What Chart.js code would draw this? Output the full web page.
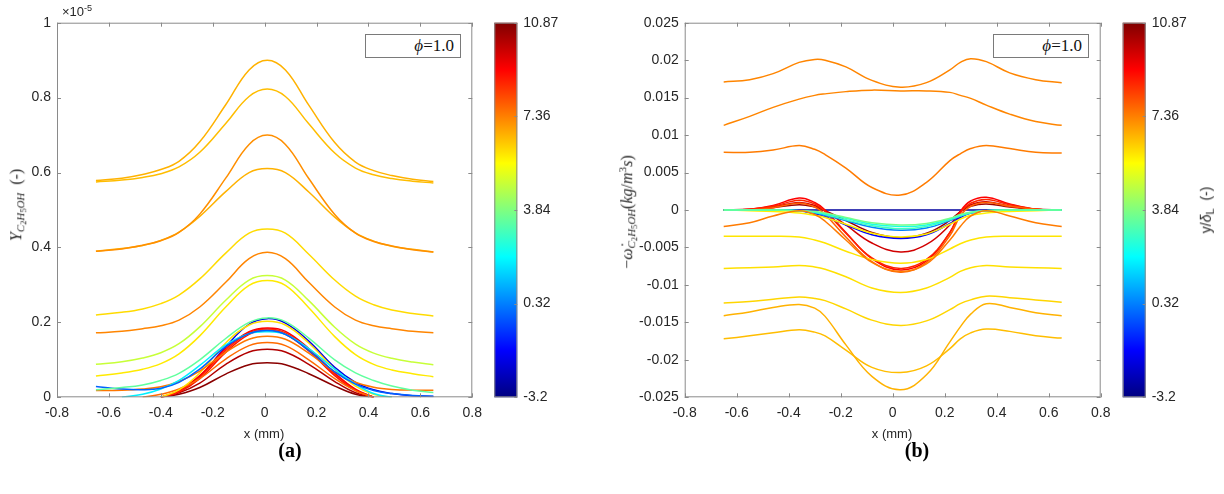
<!DOCTYPE html>
<html><head><meta charset="utf-8">
<script src="https://cdn.jsdelivr.net/npm/chart.js@4.4.1/dist/chart.umd.min.js"></script>
<style>
html,body{margin:0;padding:0;background:#fff;}
#wrap{position:relative;width:1224px;height:494px;overflow:hidden;font-family:"Liberation Sans",Arial,sans-serif;color:#262626;}
.cv{position:absolute;top:0;width:612px;height:494px;}
.t{position:absolute;white-space:nowrap;transform:translate(-50%,-50%);}
.rot{transform:translate(-50%,-50%) rotate(-90deg);}
.serif{font-family:"Liberation Serif","Times New Roman",serif;}
.legend{position:absolute;border:1px solid #7a7a7a;background:#fff;box-sizing:border-box;font-family:"Liberation Serif","Times New Roman",serif;font-size:17px;text-align:right;padding-right:6px;line-height:22px;color:#111;}
.sb{font-size:0.68em;vertical-align:-0.3em;}
.sb2{font-size:0.8em;vertical-align:-0.25em;}
.sp{font-size:0.7em;vertical-align:0.55em;}
</style></head>
<body><div id="wrap">
<div class="cv" style="left:0"><canvas id="c1" width="612" height="494"></canvas></div>
<div class="cv" style="left:612px"><canvas id="c2" width="612" height="494"></canvas></div>

<div class="t" style="left:77px;top:11px;font-size:13px;">×10<span class="sp">-5</span></div>
<div class="t rot serif" style="left:18px;top:205px;font-size:16px;"><i>Y</i><span class="sb"><i>C</i><span class="sb2">2</span><i>H</i><span class="sb2">5</span><i>OH</i></span>&nbsp;&nbsp;(-)</div>
<div class="t rot serif" style="left:628px;top:212px;font-size:16px;">−<i>ω̇</i><span class="sb"><i>C</i><span class="sb2">2</span><i>H</i><span class="sb2">5</span><i>OH</i></span>(<i>kg</i>/<i>m</i><span class="sp">3</span><i>s</i>)</div>
<div class="t" style="left:264px;top:433px;font-size:13px;">x (mm)</div>
<div class="t" style="left:892px;top:433px;font-size:13px;">x (mm)</div>
<div class="t rot" style="left:1207px;top:210px;font-size:14px;">y/<i>δ</i><span class="sb" style="font-size:0.8em">L</span>&nbsp;&nbsp;(-)</div>
<div class="t serif" style="left:290px;top:450px;font-size:20px;font-weight:bold;color:#000;">(a)</div>
<div class="t serif" style="left:917px;top:450px;font-size:20px;font-weight:bold;color:#000;">(b)</div>
<div class="legend" style="left:365px;top:34px;width:96px;height:24px;"><i>ϕ</i>=1.0</div>
<div class="legend" style="left:993px;top:34px;width:96px;height:24px;"><i>ϕ</i>=1.0</div>
</div>
<script>
// ---------- colour bar (y/delta_L) ----------
const cbMin = -3.2, cbMax = 10.87;
const cbTicks = [-3.2, 0.32, 3.84, 7.36, 10.87];
const cbTickLabels = ['-3.2', '0.32', '3.84', '7.36', '10.87'];

// ---------- axis ticks ----------
const xTicks = [-0.8, -0.6, -0.4, -0.2, 0, 0.2, 0.4, 0.6, 0.8];
const xTickLabels = ['-0.8', '-0.6', '-0.4', '-0.2', '0', '0.2', '0.4', '0.6', '0.8'];
const yTicksA = [0, 0.2, 0.4, 0.6, 0.8, 1];
const yTickLabelsA = ['0', '0.2', '0.4', '0.6', '0.8', '1'];
const yTicksB = [-0.025, -0.02, -0.015, -0.01, -0.005, 0, 0.005, 0.01, 0.015, 0.02, 0.025];
const yTickLabelsB = ['-0.025', '-0.02', '-0.015', '-0.01', '-0.005', '0', '0.005', '0.01', '0.015', '0.02', '0.025'];

// ---------- panel (a): Y_C2H5OH (x1e-5) ----------
const xA = [-0.65, -0.55, -0.47, -0.40, -0.33, -0.25, -0.15, -0.06, 0.01, 0.08, 0.17, 0.27, 0.35, 0.42, 0.49, 0.57, 0.65];
const aA  = [.579, .585, .595, .608, .630, .682, .781, .874, .900, .874, .780, .680, .628, .605, .592, .582, .576];
const aB  = [.575, .580, .587, .597, .615, .654, .731, .803, .823, .803, .730, .652, .612, .594, .584, .577, .572];
const aC  = [.390, .396, .406, .418, .440, .489, .585, .675, .700, .675, .584, .488, .438, .416, .404, .394, .388];
const aD  = [.390, .397, .405, .419, .441, .483, .549, .600, .611, .600, .548, .481, .439, .417, .403, .395, .388];
const aE  = [.220, .227, .236, .250, .273, .316, .385, .438, .449, .438, .382, .313, .270, .247, .233, .224, .217];
const aF  = [.172, .176, .183, .191, .206, .241, .307, .370, .387, .370, .307, .241, .206, .191, .183, .176, .172];
const aG  = [.088, .095, .105, .119, .143, .188, .259, .313, .325, .313, .258, .187, .142, .118, .104, .094, .087];
const aH  = [.057, .065, .075, .090, .116, .164, .241, .299, .312, .299, .239, .162, .114, .088, .073, .063, .055];
const aI  = [.020, .026, .033, .045, .064, .100, .157, .200, .212, .202, .158, .100, .065, .045, .030, .019, .013];
const aK  = [.029, .022, .020, .024, .040, .075, .135, .170, .178, .168, .125, .068, .035, .018, .010, .005, .003];
const aL  = [null, .000, .008, .022, .045, .085, .140, .170, .175, .168, .130, .075, .035, .010, .000, null, null];
const aM  = [.018, .019, .022, .028, .042, .070, .120, .155, .163, .155, .118, .068, .040, .027, .021, .019, .019];
const aY1 = [null, null, null, .000, .020, .065, .145, .193, .203, .193, .145, .075, .030, .008, .000, null, null];
const aO2 = [null, null, .000, .008, .022, .050, .102, .138, .146, .138, .100, .050, .018, .000, null, null, null];
const aN1 = [null, null, null, .000, .018, .058, .130, .175, .185, .176, .130, .065, .022, .000, null, null, null];
const aN2 = [null, null, null, .000, .016, .055, .125, .172, .182, .172, .128, .062, .020, .000, null, null, null];
const aN3 = [null, null, null, .000, .014, .050, .120, .168, .179, .168, .124, .058, .018, .000, null, null, null];
const aR1 = [null, null, null, .000, .012, .038, .088, .121, .128, .121, .088, .042, .012, .000, null, null, null];
const aR2 = [null, null, null, .000, .008, .026, .062, .087, .092, .087, .063, .030, .008, .000, null, null, null];
const aJ  = [null, null, null, .000, .015, .055, .135, .195, .210, .198, .150, .080, .040, .020, .010, .004, .002];
const seriesA = [aA, aB, aC, aD, aE, aF, aG, aH, aI, aK, aL, aM, aY1, aO2, aN1, aN2, aN3, aR1, aR2, aJ];
const levelsA = [6.65, 6.51, 7.14, 6.65, 6.09, 7.28, 4.82, 5.88, 3.41, -0.10, 1.87, 7.49, 6.02, 7.63, 9.11, 8.48, 8.90, 10.17, 10.73, -1.79];

// ---------- panel (b): -omega_C2H5OH (kg/m^3 s) ----------
const xB = [-0.65, -0.55, -0.46, -0.36, -0.30, -0.26, -0.18, -0.08, 0.03, 0.13, 0.22, 0.26, 0.30, 0.36, 0.45, 0.55, 0.65];
const b1  = [.0171, .0174, .0182, .0197, .0201, .0200, .0191, .0173, .0164, .0170, .0187, .0197, .0202, .0198, .0183, .0174, .0170];
const b2  = [.0113, .0125, .0137, .0148, .0153, .0155, .0158, .0160, .0159, .0159, .0157, .0153, .0149, .0140, .0128, .0118, .0113];
const b3  = [.0077, .0077, .0080, .0086, .0081, .0074, .0056, .0030, .0020, .0037, .0066, .0075, .0082, .0086, .0082, .0077, .0076];
const b4  = [-.0022, -.0017, -.0008, -.0001, -.0006, -.0015, -.0040, -.0070, -.0082, -.0072, -.0040, -.0022, -.0008, -.0001, -.0008, -.0017, -.0022];
const b5  = [-.0035, -.0035, -.0035, -.0036, -.0040, -.0044, -.0055, -.0066, -.0071, -.0066, -.0052, -.0045, -.0040, -.0036, -.0035, -.0035, -.0035];
const b6  = [-.0078, -.0077, -.0076, -.0074, -.0076, -.0079, -.0089, -.0104, -.0110, -.0104, -.0090, -.0082, -.0077, -.0074, -.0076, -.0077, -.0078];
const b7  = [-.0124, -.0122, -.0119, -.0116, -.0118, -.0121, -.0132, -.0147, -.0154, -.0148, -.0133, -.0125, -.0120, -.0115, -.0117, -.0120, -.0123];
const b8  = [-.0141, -.0136, -.0130, -.0126, -.0131, -.0142, -.0180, -.0222, -.0240, -.0220, -.0176, -.0156, -.0139, -.0125, -.0130, -.0137, -.0141];
const b9  = [-.0172, -.0168, -.0164, -.0160, -.0163, -.0168, -.0187, -.0210, -.0217, -.0208, -.0185, -.0172, -.0164, -.0159, -.0162, -.0168, -.0171];
const bG3 = [0, 0, 0, -.0001, -.0002, -.0004, -.0010, -.0017, -.0020, -.0018, -.0011, -.0006, -.0003, -.0001, 0, 0, 0];
const bG1 = [0, 0, 0, -.0001, -.0003, -.0005, -.0011, -.0019, -.0022, -.0020, -.0012, -.0007, -.0003, -.0001, 0, 0, 0];
const bG2 = [0, 0, 0, -.0001, -.0003, -.0006, -.0013, -.0021, -.0025, -.0022, -.0013, -.0008, -.0004, -.0001, 0, 0, 0];
const bLb = [0, 0, 0, -.0001, -.0004, -.0007, -.0014, -.0023, -.0027, -.0024, -.0014, -.0008, -.0004, -.0001, 0, 0, 0];
const bY0 = [0, -.0001, -.0002, -.0004, -.0007, -.0010, -.0019, -.0031, -.0036, -.0032, -.0019, -.0012, -.0007, -.0004, -.0002, -.0001, 0];
const bBb = [0, 0, 0, -.0001, -.0005, -.0009, -.0020, -.0033, -.0038, -.0033, -.0018, -.0010, -.0004, -.0001, 0, 0, 0];
const bR3 = [0, 0, .0003, .0009, .0004, -.0006, -.0036, -.0069, -.0083, -.0070, -.0034, -.0008, .0005, .0010, .0005, .0001, 0];
const bR2 = [0, .0001, .0005, .0013, .0008, -.0002, -.0031, -.0064, -.0078, -.0066, -.0030, -.0004, .0009, .0014, .0007, .0001, 0];
const bR1 = [0, .0001, .0006, .0016, .0010, .0000, -.0030, -.0065, -.0080, -.0068, -.0030, -.0002, .0012, .0017, .0008, .0001, 0];
const bD1 = [0, .0001, .0004, .0010, .0006, -.0001, -.0020, -.0044, -.0056, -.0046, -.0020, -.0002, .0007, .0011, .0005, .0001, 0];
const bD2 = [0, 0, .0003, .0007, .0004, -.0001, -.0014, -.0030, -.0037, -.0031, -.0014, -.0002, .0005, .0008, .0004, .0001, 0];
const bBn = [0, 0, 0, 0, 0, 0, 0, 0, 0, 0, 0, 0, 0, 0, 0, 0, 0];
const seriesB = [b1, b2, b3, b4, b5, b6, b7, b8, b9, bG3, bG1, bG2, bLb, bY0, bBb, bR3, bR2, bR1, bD1, bD2, bBn];
const levelsB = [7.28, 7.28, 7.42, 7.42, 5.95, 6.02, 6.16, 6.65, 6.51, 3.69, 2.43, 2.99, 0.32, 5.80, -1.44, 7.77, 8.62, 9.11, 9.74, 10.45, -2.78];

// ---------- helpers ----------
function jet(v) {
  const t = (v - cbMin) / (cbMax - cbMin);
  const c = x => Math.round(255 * Math.max(0, Math.min(1, 1.5 - Math.abs(x))));
  return 'rgb(' + c(4 * t - 3) + ',' + c(4 * t - 2) + ',' + c(4 * t - 1) + ')';
}
const FONT = '"Liberation Sans", Arial, sans-serif';
const FRAME = '#8a8a8a';

const framePlugin = {
  id: 'frame',
  afterDraw(chart) {
    const ctx = chart.ctx, a = chart.chartArea;
    const sx = chart.scales.x, sy = chart.scales.y, cb = chart.scales.cb;
    ctx.save();
    ctx.strokeStyle = FRAME; ctx.lineWidth = 1;
    ctx.strokeRect(a.left + 0.5, a.top + 0.5, a.right - a.left - 1, a.bottom - a.top - 1);
    const tl = 4;
    ctx.beginPath();
    sx.ticks.forEach(t => {
      const p = Math.round(sx.getPixelForValue(t.value)) + 0.5;
      ctx.moveTo(p, a.bottom); ctx.lineTo(p, a.bottom - tl);
      ctx.moveTo(p, a.top); ctx.lineTo(p, a.top + tl);
    });
    sy.ticks.forEach(t => {
      const p = Math.round(sy.getPixelForValue(t.value)) + 0.5;
      ctx.moveTo(a.left, p); ctx.lineTo(a.left + tl, p);
      ctx.moveTo(a.right, p); ctx.lineTo(a.right - tl, p);
    });
    ctx.stroke();
    // colour bar
    const top = cb.getPixelForValue(cbMax), bot = cb.getPixelForValue(cbMin);
    const L = a.right + 22, W = 23;
    const g = ctx.createLinearGradient(0, bot, 0, top);
    [0, 0.125, 0.375, 0.625, 0.875, 1].forEach(s => {
      g.addColorStop(s, jet(cbMin + s * (cbMax - cbMin)));
    });
    ctx.fillStyle = g;
    ctx.fillRect(L, top, W, bot - top);
    ctx.strokeStyle = FRAME;
    ctx.strokeRect(L + 0.5, top + 0.5, W - 1, bot - top - 1);
    ctx.beginPath();
    cb.ticks.forEach(t => {
      const p = Math.round(cb.getPixelForValue(t.value)) + 0.5;
      ctx.moveTo(L + W, p); ctx.lineTo(L + W - 3, p);
    });
    ctx.stroke();
    ctx.restore();
  }
};

function makeChart(id, xs, series, levels, yMin, yMax, yTicks, yLabels, yWidth, cbWidth) {
  const datasets = series.map((s, i) => ({
    data: xs.map((x, j) => ({ x: x, y: s[j] })),
    borderColor: jet(levels[i]),
    borderWidth: 1.5,
    pointRadius: 0,
    fill: false,
    tension: 0.4,
    spanGaps: false,
    xAxisID: 'x', yAxisID: 'y'
  }));
  const tickFont = { family: FONT, size: 14 };
  return new Chart(document.getElementById(id), {
    type: 'line',
    data: { datasets },
    options: {
      responsive: false, animation: false,
      layout: { padding: { top: 22.7, left: 0, right: 0, bottom: 0 }, autoPadding: false },
      plugins: { legend: { display: false }, tooltip: { enabled: false } },
      scales: {
        x: {
          type: 'linear', position: 'bottom', min: -0.8, max: 0.8,
          afterBuildTicks: s => { s.ticks = xTicks.map(v => ({ value: v })); },
          afterFit: s => { s.height = 494 - 397.3; },
          grid: { display: false, drawTicks: false }, border: { display: false },
          ticks: { autoSkip: false, maxRotation: 0, padding: 7, font: tickFont, color: '#262626',
                   callback: (v, i) => xTickLabels[i] }
        },
        y: {
          type: 'linear', position: 'left', min: yMin, max: yMax,
          afterBuildTicks: s => { s.ticks = yTicks.map(v => ({ value: v })); },
          afterFit: s => { s.width = yWidth; },
          grid: { display: false, drawTicks: false }, border: { display: false },
          ticks: { autoSkip: false, padding: 6, font: tickFont, color: '#262626',
                   callback: (v, i) => yLabels[i] }
        },
        cb: {
          type: 'linear', position: 'right', min: cbMin, max: cbMax,
          afterBuildTicks: s => { s.ticks = cbTicks.map(v => ({ value: v })); },
          afterFit: s => { s.width = cbWidth; },
          grid: { display: false, drawTicks: true, tickLength: 45 }, border: { display: false },
          ticks: { autoSkip: false, padding: 6, font: tickFont, color: '#262626',
                   callback: (v, i) => cbTickLabels[i] }
        }
      }
    },
    plugins: [framePlugin]
  });
}

makeChart('c1', xA, seriesA, levelsA, 0, 1, yTicksA, yTickLabelsA, 57, 612 - 472.3);
makeChart('c2', xB, seriesB, levelsB, -0.025, 0.025, yTicksB, yTickLabelsB, 72.7, 612 - 488.7);
</script>
</body></html>
